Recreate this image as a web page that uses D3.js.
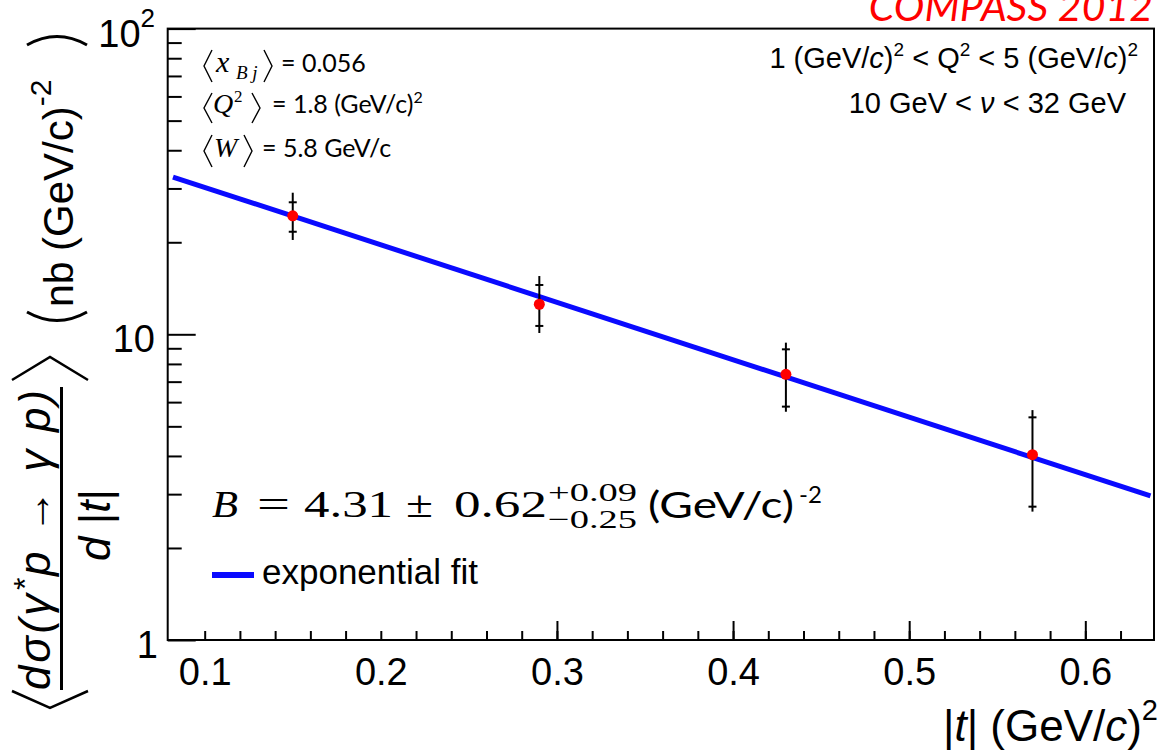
<!DOCTYPE html>
<html><head><meta charset="utf-8">
<script src="https://cdn.jsdelivr.net/npm/d3@7"></script>
<style>body{margin:0;background:#fff}svg{display:block}</style>
</head><body>
<svg id="c" width="1163" height="753"></svg>
<script>
// ---- data ----
const tVals   = [0.15, 0.29, 0.43, 0.57];
const xsec    = [24.4, 12.54, 7.40, 4.04];
const statLo  = [21.65, 10.65, 5.80, 2.73];
const statHi  = [27.03, 14.50, 8.93, 5.35];
const totLo   = [20.35, 10.10, 5.58, 2.63];
const totHi   = [29.05, 15.51, 9.39, 5.65];
const fitT    = [0.082, 0.637];
const fitY    = [32.7, 2.96];
const xTicks  = [0.1, 0.2, 0.3, 0.4, 0.5, 0.6];
const xTickLabels = ["0.1", "0.2", "0.3", "0.4", "0.5", "0.6"];
const xLongTicks = [0.3, 0.4, 0.5, 0.6];
const yTicks  = [1, 10, 100];
const yTickLabels = ["1", "10", "10^2"];

const sans = "'Liberation Sans', Arial, sans-serif";
const serif = "'Liberation Serif', 'DejaVu Serif', serif";
const cal = "Lato, 'Open Sans', sans-serif";

const svg = d3.select("#c");
const L = 167.7, R = 1154, T = 28.6, B = 640;
const x = d3.scaleLinear().domain([0.079, 0.639]).range([L, R]);
const y = d3.scaleLog().domain([1, 100]).range([B, T]);

// ---- axes ----
const minorX = d3.range(5, 32).map(i => +(i * 0.02).toFixed(2));
const gx1 = svg.append("g").attr("transform", `translate(0,${B})`)
  .call(d3.axisBottom(x).tickValues(minorX).tickSize(-9).tickFormat(""));
const gx2 = svg.append("g").attr("transform", `translate(0,${B})`)
  .call(d3.axisBottom(x).tickValues(xLongTicks).tickSize(-19).tickFormat(""));
const gx3 = svg.append("g").attr("transform", `translate(0,${B})`)
  .call(d3.axisBottom(x).tickValues(xTicks).tickSize(0).tickPadding(18)
    .tickFormat((d, i) => xTickLabels[i]));
gx3.selectAll("text").attr("font-family", sans).attr("font-size", 38).attr("fill", "#000");

const minorY = [];
[1, 10].forEach(dec => { for (let k = 2; k <= 9; k++) minorY.push(k * dec); });
const gy1 = svg.append("g").attr("transform", `translate(${L},0)`)
  .call(d3.axisLeft(y).tickValues(minorY).tickSize(-14).tickFormat(""));
const gy2 = svg.append("g").attr("transform", `translate(${L},0)`)
  .call(d3.axisLeft(y).tickValues(yTicks).tickSize(-28).tickFormat(""));
[gx1, gx2, gx3, gy1, gy2].forEach(g => {
  g.select(".domain").remove();
  g.selectAll("line").attr("stroke", "#000").attr("stroke-width", 2);
});

// y tick labels
yTicks.forEach((v, i) => {
  const lab = yTickLabels[i];
  const t = svg.append("text").attr("x", v === 1 ? 158 : 155).attr("y", y(v) + 18)
    .attr("text-anchor", "end").attr("font-family", sans).attr("font-size", 38).attr("fill", "#000");
  if (lab.includes("^")) {
    const [base, ex] = lab.split("^");
    t.append("tspan").text(base);
    t.append("tspan").attr("dy", -20).attr("font-size", 26).text(ex);
  } else t.text(lab);
});

// frame
svg.append("rect").attr("x", L).attr("y", T).attr("width", R - L).attr("height", B - T)
  .attr("fill", "none").attr("stroke", "#000").attr("stroke-width", 2);

// ---- fit line ----
const line = d3.line().x(d => x(d[0])).y(d => y(d[1]));
svg.append("path").datum(fitT.map((t, i) => [t, fitY[i]])).attr("d", line)
  .attr("fill", "none").attr("stroke", "#0a0aff").attr("stroke-width", 5);

// ---- error bars and points ----
tVals.forEach((t, i) => {
  const cx = x(t);
  svg.append("line").attr("x1", cx).attr("x2", cx).attr("y1", y(totLo[i])).attr("y2", y(totHi[i]))
    .attr("stroke", "#000").attr("stroke-width", 2);
  [statLo[i], statHi[i]].forEach(v => {
    svg.append("line").attr("x1", cx - 4).attr("x2", cx + 4).attr("y1", y(v)).attr("y2", y(v))
      .attr("stroke", "#000").attr("stroke-width", 2);
  });
  svg.append("circle").attr("cx", cx).attr("cy", y(xsec[i])).attr("r", 5.5).attr("fill", "#ff0000");
});

// ---- x axis title ----
const xt = svg.append("text").attr("x", 1158).attr("y", 741).attr("text-anchor", "end")
  .attr("font-family", sans).attr("font-size", 44).attr("fill", "#000");
xt.append("tspan").text("|");
xt.append("tspan").attr("font-style", "italic").text("t");
xt.append("tspan").text("| (GeV/");
xt.append("tspan").attr("font-style", "italic").text("c");
xt.append("tspan").text(")");
xt.append("tspan").attr("dy", -21).attr("font-size", 29).text("2");

// ---- y axis title (rotated) ----
const yg = svg.append("g").attr("transform", "translate(0,753) rotate(-90)");
const stroke = (p, w) => yg.append("path").attr("d", p).attr("fill", "none").attr("stroke", "#000").attr("stroke-width", w);
stroke("M62,12 L45,50 L62,88", 2.5);
const num = yg.append("text").attr("x", 63).attr("y", 50).attr("font-family", sans).attr("font-size", 44)
  .attr("font-style", "italic").attr("fill", "#000").attr("textLength", 300).attr("lengthAdjust", "spacing");
num.append("tspan").text("dσ(γ");
num.append("tspan").attr("dy", -14).attr("font-size", 32).text("*");
num.append("tspan").attr("dy", 14).text("p → γ p)");
yg.append("line").attr("x1", 63).attr("x2", 366).attr("y1", 61.5).attr("y2", 61.5).attr("stroke", "#000").attr("stroke-width", 3);
const den = yg.append("text").attr("x", 228).attr("y", 110).attr("text-anchor", "middle").attr("font-family", sans)
  .attr("font-size", 44).attr("fill", "#000");
den.append("tspan").attr("font-style", "italic").text("d ");
den.append("tspan").text("|");
den.append("tspan").attr("font-style", "italic").text("t");
den.append("tspan").text("|");
stroke("M373,12 L396,50 L373,88", 2.5);
stroke("M441,27 Q424,57 441,87", 3);
yg.append("text").attr("x", 446).attr("y", 73).attr("font-family", sans).attr("font-size", 41).attr("fill", "#000").text("nb");
const gv = yg.append("text").attr("x", 502).attr("y", 73).attr("font-family", sans).attr("font-size", 42).attr("fill", "#000");
gv.append("tspan").text("(GeV/c)");
gv.append("tspan").attr("dy", -22).attr("font-size", 30).text("-2");
stroke("M708,27 Q725,57 708,87", 3);

// ---- COMPASS label ----
svg.append("text").attr("x", 1153).attr("y", 21).attr("text-anchor", "end").attr("font-family", cal)
  .attr("font-style", "italic").attr("font-size", 41).attr("fill", "#ff0000").text("COMPASS 2012");

// ---- top right cuts ----
const tr1 = svg.append("text").attr("x", 1138).attr("y", 68).attr("text-anchor", "end")
  .attr("font-family", sans).attr("font-size", 29).attr("fill", "#000");
const addSeg = (t, parts) => parts.forEach(p => {
  const s = t.append("tspan").text(p[0]);
  if (p[1] === "i") s.attr("font-style", "italic");
  if (p[1] === "sup") s.attr("dy", -12).attr("font-size", 19);
  if (p[1] === "back") s.attr("dy", 12);
});
addSeg(tr1, [["1 (GeV/"], ["c", "i"], [")"], ["2", "sup"], [" < Q", "back"], ["2", "sup"], [" < 5 (GeV/", "back"], ["c", "i"], [")"], ["2", "sup"]]);
const tr2 = svg.append("text").attr("x", 1126).attr("y", 113).attr("text-anchor", "end")
  .attr("font-family", sans).attr("font-size", 29).attr("fill", "#000");
addSeg(tr2, [["10 GeV < "], ["ν", "i"], [" < 32 GeV"]]);

// ---- top left averages ----
const br = (x0, top, bot, dir) => {
  const mid = (top + bot) / 2, w = 8;
  const p = dir < 0 ? `M${x0 + w},${top} L${x0},${mid} L${x0 + w},${bot}` : `M${x0},${top} L${x0 + w},${mid} L${x0},${bot}`;
  svg.append("path").attr("d", p).attr("fill", "none").attr("stroke", "#000").attr("stroke-width", 1.4);
};
const txt = (xx, yy, s, fam, size, style) => svg.append("text").attr("x", xx).attr("y", yy)
  .attr("font-family", fam).attr("font-size", size).attr("font-style", style || "normal").attr("fill", "#000").text(s);
// line 1
br(204, 50, 82, -1); txt(216, 72, "x", serif, 30, "italic"); txt(236, 79, "B j", serif, 19, "italic");
br(264, 50, 82, 1); txt(281, 72, "= 0.056", cal, 25);
// line 2
br(204, 93, 123, -1); txt(213, 113, "Q", serif, 28, "italic"); txt(234, 102, "2", serif, 17);
br(252, 93, 123, 1);
const l2 = txt(272, 113, "= 1.8 (GeV/c)", cal, 25); l2.append("tspan").attr("dy", -10).attr("font-size", 16).text("2");
// line 3
br(204, 135, 167, -1); txt(214, 157, "W", serif, 28, "italic");
br(244, 135, 167, 1); txt(262, 157, "= 5.8 GeV/c", cal, 25);

// ---- fit result ----
const fT = (xx, yy, s, fam, size, len, style) => {
  const t = svg.append("text").attr("x", xx).attr("y", yy).attr("font-family", fam).attr("font-size", size)
    .attr("font-style", style || "normal").attr("fill", "#000").text(s);
  if (len) t.attr("textLength", len).attr("lengthAdjust", "spacingAndGlyphs");
  return t;
};
fT(212, 517, "B", serif, 37, 26, "italic");
fT(257, 517, "=", serif, 37, 33);
fT(304, 517, "4.31", serif, 37, 89);
fT(406, 517, "±", serif, 37, 27);
fT(454, 517, "0.62", serif, 37, 93);
fT(548, 501, "+0.09", serif, 26, 89);
fT(548, 528, "−0.25", serif, 26, 89);
fT(648, 518, "(GeV/c)", cal, 36, 146);
svg.append("text").attr("x", 799).attr("y", 503).attr("font-family", cal).attr("font-size", 24).attr("fill", "#000").text("-2");

// ---- legend ----
svg.append("line").attr("x1", 212).attr("x2", 254).attr("y1", 575).attr("y2", 575).attr("stroke", "#0a0aff").attr("stroke-width", 6);
svg.append("text").attr("x", 262).attr("y", 584).attr("font-family", sans).attr("font-size", 35).attr("fill", "#000").text("exponential fit");
</script>
</body></html>
